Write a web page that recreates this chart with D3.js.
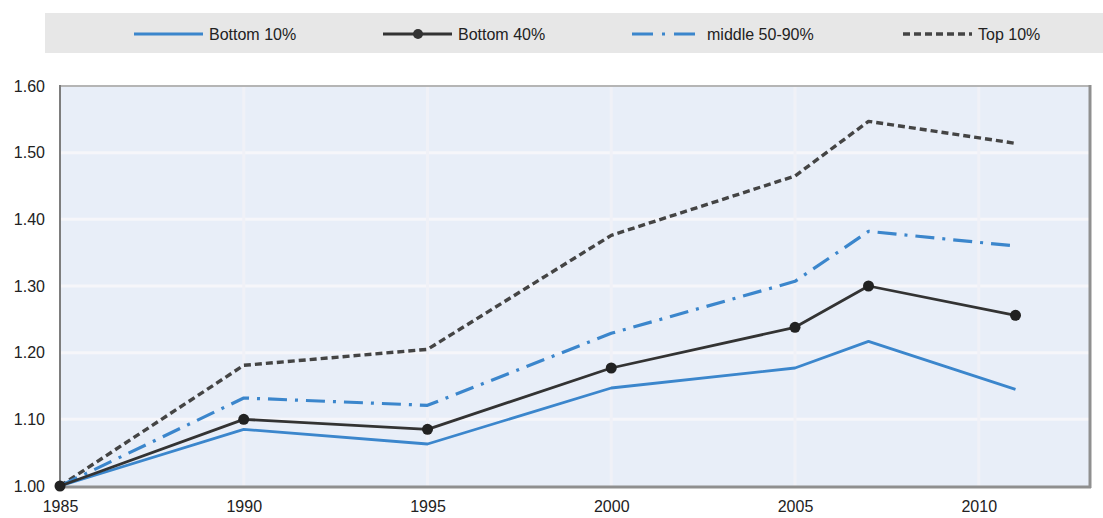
<!DOCTYPE html>
<html><head><meta charset="utf-8">
<script src="https://cdn.jsdelivr.net/npm/d3@7"></script>
<style>
html,body{margin:0;padding:0;background:#fff;}
svg{display:block;font-family:"Liberation Sans",Arial,sans-serif;}
</style></head>
<body><svg id="c" width="1103" height="518"></svg>
<script>
const years = [1985, 1990, 1995, 2000, 2005, 2007, 2011];
const bottom10 = [1.00, 1.085, 1.063, 1.147, 1.177, 1.217, 1.145];
const bottom40 = [1.00, 1.100, 1.085, 1.177, 1.238, 1.300, 1.256];
const middle5090 = [1.00, 1.132, 1.121, 1.229, 1.307, 1.382, 1.360];
const top10 = [1.00, 1.181, 1.205, 1.376, 1.465, 1.547, 1.514];
const xTicks = [1985, 1990, 1995, 2000, 2005, 2010];
const yTicks = [1.0, 1.1, 1.2, 1.3, 1.4, 1.5, 1.6];
const seriesNames = ["Bottom 10%", "Bottom 40%", "middle 50-90%", "Top 10%"];

const svg = d3.select("#c");
const L = 60, R = 1089, T = 86, B = 486;
const x = d3.scaleLinear().domain([1985, 2013]).range([L, R]);
const y = d3.scaleLinear().domain([1.0, 1.6]).range([B, T]);

const blue = "#3b86cc", dark = "#333333";
const styles = [
  {color: blue, w: 2.8, dash: null, marker: false},
  {color: dark, w: 2.8, dash: null, marker: true},
  {color: blue, w: 3.2, dash: "19,8,3,8", marker: false},
  {color: "#444", w: 3.4, dash: "7,4", marker: false}
];
const data = [bottom10, bottom40, middle5090, top10];

// legend
svg.append("rect").attr("x", 45).attr("y", 13).attr("width", 1058).attr("height", 40).attr("fill", "#e7e7e7");
const legX = [134, 383, 632, 903];
seriesNames.forEach((n, i) => {
  const s = styles[i];
  const g = svg.append("g");
  g.append("line").attr("x1", legX[i]).attr("x2", legX[i] + 69).attr("y1", 34).attr("y2", 34)
    .attr("stroke", s.color).attr("stroke-width", s.w).attr("stroke-dasharray", i === 2 ? "21,9,3,9" : s.dash);
  if (s.marker) g.append("circle").attr("cx", legX[i] + 35).attr("cy", 34).attr("r", 5).attr("fill", s.color);
  g.append("text").attr("x", legX[i] + 75).attr("y", 40).attr("font-size", 16).attr("fill", "#222").text(n);
});

// plot background
svg.append("rect").attr("x", L).attr("y", T).attr("width", R - L).attr("height", B - T).attr("fill", "#e8eef8");

// grid
svg.append("g").selectAll("line").data(yTicks.slice(1, -1)).join("line")
  .attr("x1", L).attr("x2", R).attr("y1", d => y(d)).attr("y2", d => y(d))
  .attr("stroke", "#f6f6fa").attr("stroke-width", 3);
svg.append("g").selectAll("line").data(xTicks.slice(1)).join("line")
  .attr("x1", d => x(d)).attr("x2", d => x(d)).attr("y1", T).attr("y2", B)
  .attr("stroke", "#f0f1f7").attr("stroke-width", 3);

// frame
svg.append("line").attr("x1", L).attr("x2", R).attr("y1", T).attr("y2", T).attr("stroke", "#b5b5b5").attr("stroke-width", 2);
svg.append("line").attr("x1", R + 1).attr("x2", R + 1).attr("y1", T - 1).attr("y2", B + 2).attr("stroke", "#8f8f8f").attr("stroke-width", 3);
svg.append("line").attr("x1", L).attr("x2", R + 2).attr("y1", B + 1).attr("y2", B + 1).attr("stroke", "#8f8f8f").attr("stroke-width", 3);
svg.append("line").attr("x1", L).attr("x2", L).attr("y1", T - 1).attr("y2", B + 1).attr("stroke", "#7d7d7d").attr("stroke-width", 2);

// axes
const yAxis = d3.axisLeft(y).tickValues(yTicks).tickFormat(d3.format(".2f")).tickSize(0).tickPadding(15);
const gy = svg.append("g").attr("transform", `translate(${L},0)`).call(yAxis);
gy.select(".domain").remove();
gy.selectAll("text").attr("font-size", 16).attr("fill", "#222").attr("font-family", "Liberation Sans, Arial, sans-serif");

const xAxis = d3.axisBottom(x).tickValues(xTicks).tickFormat(d3.format("d")).tickSize(0).tickPadding(15);
const gx = svg.append("g").attr("transform", `translate(0,${B})`).call(xAxis);
gx.select(".domain").remove();
gx.selectAll("text").attr("font-size", 16).attr("fill", "#222").attr("font-family", "Liberation Sans, Arial, sans-serif");

// lines
const line = d3.line().x((d, i) => x(years[i])).y(d => y(d));
[3, 2, 0, 1].forEach(i => {
  const s = styles[i];
  svg.append("path").datum(data[i]).attr("d", line).attr("fill", "none")
    .attr("stroke", s.color).attr("stroke-width", s.w).attr("stroke-dasharray", s.dash)
    .attr("stroke-linejoin", "round");
  if (s.marker) {
    svg.append("g").selectAll("circle").data(data[i]).join("circle")
      .attr("cx", (d, j) => x(years[j])).attr("cy", d => y(d)).attr("r", 5.5).attr("fill", "#222");
  }
});
</script></body></html>
